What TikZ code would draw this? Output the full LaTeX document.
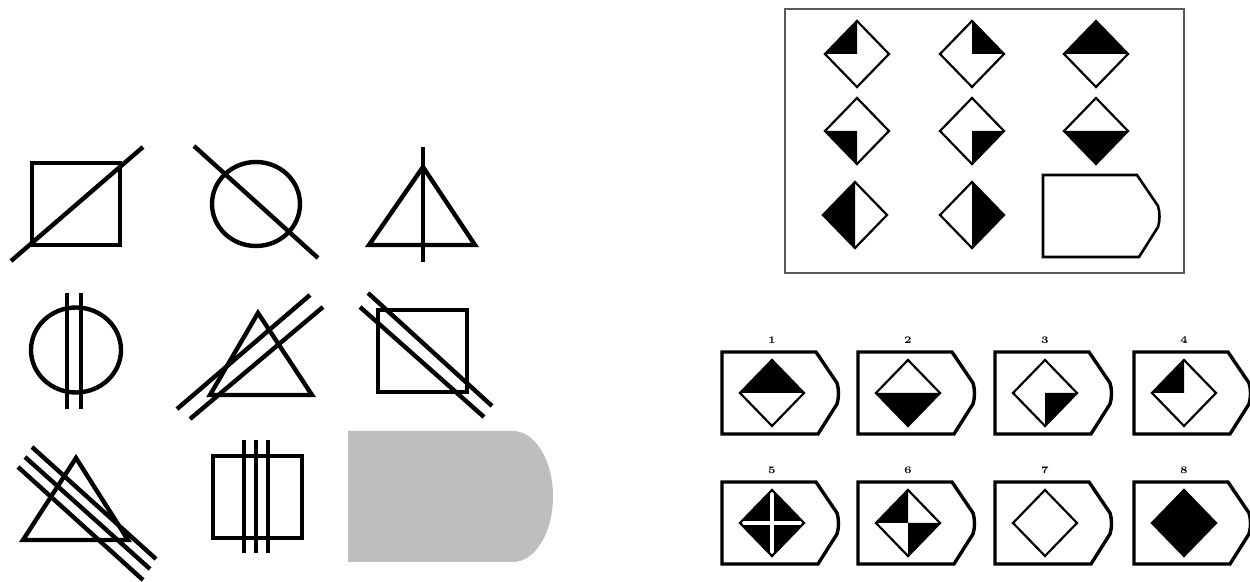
\documentclass[tikz,border=0pt]{standalone}
\usepackage{tikz}
\usetikzlibrary{positioning}

\definecolor{greyfill}{RGB}{190,190,190}
\definecolor{frame}{RGB}{90,90,90}

\tikzset{
    fig/.style={line width=2.2pt, black},
    gemline/.style={line width=1.1pt, black},
    cardline/.style={line width=1.7pt, black},
    num/.style={font=\fontsize{5}{6}\selectfont\bfseries, inner sep=0pt}
}

% diamond: #1 centre, #2 the black part
\newcommand{\gem}[2]{%
    \begin{scope}[shift={#1}]
        \coordinate (t) at (0,-33);
        \coordinate (r) at (32,0);
        \coordinate (b) at (0,33);
        \coordinate (l) at (-32,0);
        \coordinate (c) at (0,0);
        #2
        \draw[gemline] (t) -- (r) -- (b) -- (l) -- cycle;
    \end{scope}}

% answer card: #1 top left corner, #2 line style
\newcommand{\card}[2]{%
    \draw[#2] #1 ++(0,0) -- ++(94,0) -- ++(21,31)
        .. controls ++(2,6) and ++(2,-6) .. ++(0,21)
        -- ++(-19,30) -- ++(-96,0) -- cycle;}

\begin{document}
\begin{tikzpicture}[x=0.5pt, y=-0.5pt]
    \useasboundingbox (0,0) rectangle (1250,582);

    % left matrix, row 1
    \draw[fig] (32,163) rectangle (120,245);
    \draw[fig] (11,261) -- (143,147);
    \draw[fig] (256,204) ellipse [x radius=44, y radius=42];
    \draw[fig] (194,146) -- (318,258);
    \draw[fig] (369,245) -- (423,167) -- (475,245) -- cycle;
    \draw[fig] (423,147) -- (423,262);

    % row 2
    \draw[fig] (76,350) ellipse [x radius=45, y radius=42.5];
    \draw[fig] (67,293) -- (67,409) (81,293) -- (81,409);
    \draw[fig] (210,395) -- (258,313) -- (312,395) -- cycle;
    \draw[fig] (177,409) -- (310,295) (190,419) -- (323,307);
    \draw[fig] (378,310) rectangle (467,392);
    \draw[fig] (368,293) -- (492,406) (360,307) -- (484,417);

    % row 3
    \draw[fig] (23,540) -- (76,458) -- (128,540) -- cycle;
    \draw[fig] (32,447) -- (156,559) (25,457) -- (150,569) (18,467) -- (143,580);
    \draw[fig] (213,456) rectangle (302,538);
    \foreach \x in {244,256,268}
        \draw[fig] (\x,440) -- (\x,553);
    \fill[greyfill] (348,431) -- (513,431)
        arc[start angle=-90, end angle=90, x radius=40, y radius=65.5]
        -- (348,562) -- cycle;

    % puzzle box
    \draw[frame, line width=1pt] (785,9) rectangle (1184,273);
    \gem{(857,54)}{\fill (t) -- (l) -- (c) -- cycle;}
    \gem{(972,54)}{\fill (t) -- (r) -- (c) -- cycle;}
    \gem{(1096,54)}{\fill (t) -- (l) -- (r) -- cycle;}
    \gem{(857,131)}{\fill (b) -- (l) -- (c) -- cycle;}
    \gem{(972,131)}{\fill (b) -- (r) -- (c) -- cycle;}
    \gem{(1096,131)}{\fill (b) -- (l) -- (r) -- cycle;}
    \gem{(855,215)}{\fill (t) -- (l) -- (b) -- cycle;}
    \gem{(972,215)}{\fill (t) -- (r) -- (b) -- cycle;}
    \card{(1043,175)}{line width=1.3pt}

    % answers
    \foreach \n/\x/\y in {1/722/352, 2/858/352, 3/995/352, 4/1134/352,
                          5/722/482, 6/858/482, 7/995/482, 8/1134/482} {
        \card{(\x,\y)}{cardline}
        \node[num] (n\n) at (\x+50,\y-12) {\n};
    }
    \gem{(772,393)}{\fill (t) -- (l) -- (r) -- cycle;}
    \gem{(908,393)}{\fill (b) -- (l) -- (r) -- cycle;}
    \gem{(1045,393)}{\fill (b) -- (r) -- (c) -- cycle;}
    \gem{(1184,393)}{\fill (t) -- (l) -- (c) -- cycle;}
    \gem{(772,523)}{\fill (t) -- (r) -- (b) -- (l) -- cycle;
        \draw[white, line width=2pt] (t) -- (b) (l) -- (r);}
    \gem{(908,523)}{\fill (t) -- (l) -- (c) -- cycle;
        \fill (b) -- (r) -- (c) -- cycle;}
    \gem{(1045,523)}{}
    \gem{(1184,523)}{\fill (t) -- (r) -- (b) -- (l) -- cycle;}
\end{tikzpicture}
\end{document}
